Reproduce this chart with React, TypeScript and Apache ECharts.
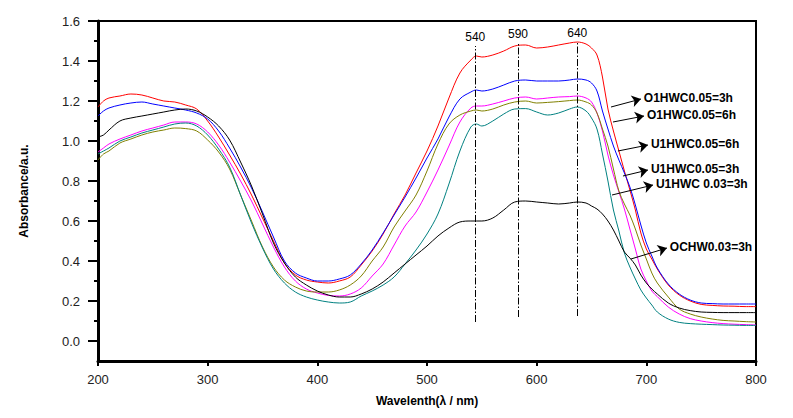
import React, { useEffect, useRef } from "react";
import * as echarts from "echarts";

const wavelengths = [200,205,210,220,230,240,250,260,270,280,290,300,310,320,330,340,350,360,370,380,390,400,410,420,430,440,450,460,470,480,490,500,510,520,530,540,545,550,560,570,580,590,600,610,620,630,637,645,650,655,660,665,670,675,680,685,690,695,700,705,710,720,730,740,750,760,770,780,790,800];

const o1hwc005_3h = [1.17,1.2,1.215,1.225,1.235,1.23,1.215,1.2,1.195,1.18,1.16,1.1,1.02,0.93,0.835,0.73,0.615,0.5,0.39,0.33,0.305,0.295,0.29,0.3,0.32,0.38,0.45,0.535,0.635,0.73,0.84,0.95,1.075,1.215,1.34,1.405,1.425,1.42,1.43,1.45,1.475,1.48,1.465,1.47,1.48,1.49,1.495,1.485,1.465,1.43,1.32,1.16,1.05,0.95,0.85,0.755,0.655,0.54,0.46,0.41,0.36,0.28,0.23,0.2,0.183,0.178,0.175,0.174,0.172,0.172];
const o1hwc005_6h = [1.125,1.15,1.165,1.18,1.19,1.195,1.185,1.175,1.165,1.155,1.14,1.11,1.05,0.965,0.87,0.765,0.645,0.52,0.4,0.34,0.315,0.3,0.3,0.31,0.33,0.385,0.455,0.54,0.63,0.72,0.815,0.915,1.01,1.12,1.21,1.245,1.255,1.25,1.26,1.28,1.3,1.305,1.3,1.3,1.3,1.305,1.31,1.305,1.29,1.25,1.15,1.06,0.975,0.905,0.84,0.77,0.68,0.58,0.49,0.425,0.365,0.285,0.235,0.205,0.19,0.187,0.185,0.185,0.185,0.185];
const u1hwc005_6h = [0.945,0.965,0.985,1.01,1.03,1.05,1.065,1.08,1.095,1.095,1.085,1.045,0.98,0.895,0.8,0.7,0.585,0.47,0.37,0.3,0.26,0.24,0.228,0.225,0.235,0.265,0.325,0.385,0.48,0.575,0.645,0.745,0.855,0.975,1.095,1.165,1.175,1.175,1.185,1.2,1.215,1.22,1.21,1.215,1.22,1.222,1.225,1.215,1.195,1.14,1.05,0.93,0.83,0.745,0.66,0.56,0.46,0.36,0.3,0.25,0.222,0.17,0.135,0.112,0.1,0.092,0.087,0.084,0.082,0.08];
const u1hwc005_3h = [0.905,0.935,0.95,0.99,1.01,1.03,1.045,1.055,1.065,1.062,1.05,1.005,0.945,0.86,0.73,0.6,0.47,0.37,0.305,0.27,0.25,0.245,0.245,0.255,0.28,0.325,0.4,0.47,0.57,0.65,0.73,0.85,0.985,1.085,1.13,1.15,1.155,1.15,1.16,1.18,1.195,1.2,1.19,1.193,1.197,1.202,1.205,1.195,1.18,1.14,1.06,0.975,0.86,0.75,0.685,0.63,0.56,0.48,0.41,0.34,0.29,0.22,0.16,0.135,0.12,0.11,0.103,0.1,0.097,0.095];
const u1hwc003_3h = [0.935,0.95,0.965,1.0,1.02,1.04,1.055,1.07,1.085,1.09,1.075,1.03,0.96,0.87,0.73,0.59,0.465,0.36,0.29,0.245,0.22,0.205,0.195,0.19,0.195,0.225,0.25,0.28,0.32,0.385,0.455,0.535,0.635,0.785,0.95,1.07,1.085,1.075,1.1,1.135,1.16,1.162,1.145,1.13,1.14,1.16,1.17,1.15,1.115,1.06,0.935,0.8,0.655,0.55,0.44,0.37,0.31,0.255,0.215,0.18,0.145,0.11,0.093,0.087,0.084,0.082,0.08,0.079,0.078,0.078];
const ochw003_3h = [1.02,1.03,1.055,1.1,1.115,1.125,1.135,1.145,1.155,1.16,1.15,1.12,1.075,1.005,0.895,0.775,0.635,0.49,0.39,0.32,0.28,0.25,0.23,0.22,0.22,0.235,0.26,0.295,0.34,0.385,0.43,0.475,0.525,0.565,0.595,0.6,0.6,0.6,0.615,0.655,0.695,0.7,0.695,0.69,0.685,0.69,0.695,0.69,0.675,0.66,0.635,0.6,0.555,0.5,0.445,0.415,0.38,0.33,0.29,0.26,0.235,0.19,0.165,0.152,0.145,0.143,0.142,0.142,0.142,0.142];

const seriesNames = ["O1HWC0.05=3h","O1HWC0.05=6h","U1HWC0.05=6h","U1HWC0.05=3h","U1HWC 0.03=3h","OCHW0.03=3h"];
const seriesColors = ["#ff0000","#0000ff","#ff00ff","#808000","#008080","#000000"];
const seriesValues = [o1hwc005_3h,o1hwc005_6h,u1hwc005_6h,u1hwc005_3h,u1hwc003_3h,ochw003_3h];

// peak marker lines: drawn position (nm), label text, vertical extent (absorbance)
const peakPositions = [544, 583, 637];
const peakLabels = ["540", "590", "640"];
const peakBottoms = [0.095, 0.12, 0.125];
const peakTops = [1.475, 1.49, 1.495];

// annotation arrows: [start wavelength, start absorbance, end wavelength, end absorbance]
const annotationArrows = [
  [667.8, 1.17, 695.1, 1.21],
  [669.6, 1.095, 697.9, 1.125],
  [674.1, 0.95, 701.5, 0.98],
  [678.7, 0.825, 701.5, 0.855],
  [668.7, 0.73, 706.1, 0.78],
  [686.0, 0.41, 718.8, 0.465],
];

const yMajorTicks = [0, 0.2, 0.4, 0.6, 0.8, 1.0, 1.2, 1.4, 1.6];
const yMinorTicks = [0.1, 0.3, 0.5, 0.7, 0.9, 1.1, 1.3, 1.5];

const FONT = "'Liberation Sans', Arial, sans-serif";

export default function App() {
  const ref = useRef<HTMLDivElement>(null);
  useEffect(() => {
    if (!ref.current) return;
    const chart = echarts.init(ref.current, undefined, { renderer: "svg" });
    const series: any[] = seriesValues.map((vals, si) => ({
      type: "line",
      name: seriesNames[si],
      data: wavelengths.map((w, i) => [w, vals[i]]),
      showSymbol: false,
      symbol: "none",
      smooth: 0.35,
      lineStyle: { color: seriesColors[si], width: 1 },
      itemStyle: { color: seriesColors[si] },
      z: 3,
    }));
    series.push({
      type: "line",
      name: "peaks",
      data: [],
      markLine: {
        silent: true,
        symbol: ["none", "none"],
        animation: false,
        lineStyle: { color: "#000", width: 1, type: [7, 2, 1.5, 2] },
        label: {
          show: true,
          position: "end",
          distance: 3,
          formatter: "{b}",
          color: "#000",
          fontSize: 12,
          fontFamily: FONT,
        },
        data: peakPositions.map((p, i) => [
          { coord: [p, peakBottoms[i]], name: peakLabels[i] },
          { coord: [p, peakTops[i]] },
        ]),
      },
    });
    series.push({
      type: "line",
      name: "arrows",
      data: [],
      markLine: {
        silent: true,
        symbol: ["none", "arrow"],
        symbolSize: 9,
        animation: false,
        lineStyle: { color: "#000", width: 1, type: "solid" },
        label: {
          show: true,
          position: "end",
          distance: 3,
          formatter: "{b}",
          color: "#000",
          fontSize: 12,
          fontWeight: "bold",
          fontFamily: FONT,
        },
        data: annotationArrows.map((a, i) => [
          { coord: [a[0], a[1]], name: seriesNames[i] },
          { coord: [a[2], a[3]] },
        ]),
      },
    });

    chart.setOption({
      animation: false,
      textStyle: { fontFamily: FONT },
      grid: {
        left: 98,
        right: 37,
        top: 21,
        bottom: 57,
        show: true,
        borderColor: "#000",
        borderWidth: 2,
        backgroundColor: "transparent",
      },
      xAxis: {
        type: "value",
        min: 200,
        max: 800,
        interval: 100,
        name: "Wavelenth(λ / nm)",
        nameLocation: "middle",
        nameGap: 34,
        nameTextStyle: { fontSize: 12, fontWeight: "bold", color: "#000", fontFamily: FONT },
        axisLine: { show: true, onZero: false, lineStyle: { color: "#000", width: 3 } },
        axisTick: { show: true, inside: false, length: 5, lineStyle: { color: "#000", width: 2 } },
        axisLabel: { color: "#222", fontSize: 13, margin: 12, fontFamily: FONT },
        splitLine: { show: false },
      },
      yAxis: [
        {
          type: "value",
          min: -0.1,
          max: 1.6,
          name: "Absorbance/a.u.",
          nameLocation: "middle",
          nameGap: 68,
          nameTextStyle: { fontSize: 12, fontWeight: "bold", color: "#000", fontFamily: FONT },
          axisLine: { show: true, onZero: false, lineStyle: { color: "#000", width: 3 } },
          axisTick: {
            show: true,
            inside: false,
            length: 10,
            customValues: yMajorTicks,
            lineStyle: { color: "#000", width: 2 },
          },
          axisLabel: {
            color: "#222",
            fontSize: 13,
            margin: 18,
            customValues: yMajorTicks,
            formatter: (v: number) => v.toFixed(1),
            fontFamily: FONT,
          },
          splitLine: { show: false },
        },
        {
          type: "value",
          min: -0.1,
          max: 1.6,
          position: "left",
          axisLine: { show: false, onZero: false },
          axisTick: {
            show: true,
            inside: false,
            length: 4,
            customValues: yMinorTicks,
            lineStyle: { color: "#000", width: 2 },
          },
          axisLabel: { show: false },
          splitLine: { show: false },
        },
      ],
      series,
    });
    return () => chart.dispose();
  }, []);
  return (
    <div
      ref={ref}
      style={{ position: "fixed", left: 0, top: 0, width: 793, height: 418, background: "#fff" }}
    />
  );
}
